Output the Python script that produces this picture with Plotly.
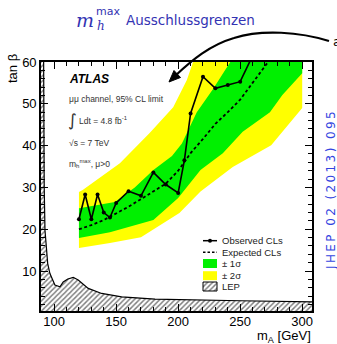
import plotly.graph_objects as go

# ---------------- data ----------------
obs_mA = [120, 125, 130, 135, 140, 145, 150, 160, 170, 180, 190, 200, 205, 210, 220, 230, 240, 250, 260]
obs_tb = [22.4, 28.3, 22.4, 28.3, 24.0, 22.8, 26.3, 29.1, 28.0, 33.6, 30.7, 28.7, 36.5, 47.7, 56.5, 53.7, 54.5, 55.3, 61.5]

exp_mA = [120, 130, 140, 150, 160, 170, 180, 190, 200, 210, 220, 230, 240, 250, 260, 270, 280]
exp_tb = [20.0, 21.0, 22.2, 23.7, 25.4, 27.2, 29.0, 30.9, 34.0, 38.2, 41.6, 45.2, 48.0, 51.0, 55.0, 59.0, 63.0]

# +-1 sigma band edges
g_up_mA = [120, 135, 149, 165, 180, 195, 203, 215, 228, 242, 248]
g_up_tb = [25.0, 25.8, 26.5, 30.0, 34.2, 37.5, 40.5, 48.0, 53.5, 60.0, 63.0]
g_lo_mA = [120, 145, 180, 200, 218, 236, 252, 274, 284, 300]
g_lo_tb = [17.9, 19.3, 22.2, 27.5, 34.2, 38.2, 43.3, 48.0, 52.1, 57.3]

# +-2 sigma band edges
y_up_mA = [120, 123, 153, 177, 196, 207, 212, 215]
y_up_tb = [28.9, 29.4, 35.8, 43.0, 49.2, 55.7, 60.0, 63.0]
y_lo_mA = [120, 145, 170, 201, 218, 244, 275, 300]
y_lo_tb = [15.5, 16.7, 18.1, 23.9, 29.0, 34.9, 40.1, 49.0]
band_end_mA = 300
band_top_tb = 63.0

# LEP excluded region boundary
lep_mA = [85, 91.5, 92.0, 92.6, 94.8, 96.6, 100.6, 104.7, 107.3, 111.0, 115.4, 119.4, 127.5, 138.3, 154.4, 181.3, 250, 312, 312, 85]
lep_tb = [62, 62, 30, 19.8, 11.8, 9.4, 6.65, 6.25, 7.4, 8.1, 8.5, 7.85, 5.85, 4.65, 3.85, 3.3, 2.9, 2.6, 0, 0]

x_range = [89.4, 307.9]
y_range = [0.45, 60]

legend_labels = ["Observed CLs", "Expected CLs", "± 1σ", "± 2σ", "LEP"]

# ---------------- layout geometry (pixels) ----------------
W, H = 337, 344
L, R, T, B = 41, 312, 62, 311

def pp(px, py):
    return (px - L) / (R - L), (B - py) / (B - T)

GREEN = "#00f000"
YELLOW = "#ffff00"
FONT = "Liberation Sans, Arial, sans-serif"

fig = go.Figure()

# LEP hatched region
fig.add_trace(go.Scatter(
    x=lep_mA, y=lep_tb, mode="lines", fill="toself", fillcolor="white",
    fillpattern=dict(shape="/", fgcolor="black", bgcolor="white", size=3.6, solidity=0.4),
    line=dict(color="black", width=1.2), hoverinfo="skip", showlegend=False))

# yellow band
fig.add_trace(go.Scatter(
    x=y_up_mA + [band_end_mA] + y_lo_mA[::-1],
    y=y_up_tb + [band_top_tb] + y_lo_tb[::-1],
    mode="lines", fill="toself", fillcolor=YELLOW, line=dict(width=0, color=YELLOW),
    hoverinfo="skip", showlegend=False))

# green band
fig.add_trace(go.Scatter(
    x=g_up_mA + [band_end_mA] + g_lo_mA[::-1],
    y=g_up_tb + [band_top_tb] + g_lo_tb[::-1],
    mode="lines", fill="toself", fillcolor=GREEN, line=dict(width=0, color=GREEN),
    hoverinfo="skip", showlegend=False))

# expected
fig.add_trace(go.Scatter(
    x=exp_mA, y=exp_tb, mode="lines",
    line=dict(color="black", width=1.8, dash="3px,2.5px"),
    hoverinfo="skip", showlegend=False))

# observed
fig.add_trace(go.Scatter(
    x=obs_mA, y=obs_tb, mode="lines+markers",
    line=dict(color="black", width=1.6),
    marker=dict(color="black", size=4),
    hoverinfo="skip", showlegend=False))

# ---------------- legend drawn on a pixel overlay axis ----------------
lx0, lx1 = 203, 217
rows = [240.7, 252.3, 263.5, 275.7, 286.5]
ov = dict(xaxis="x2", yaxis="y2", hoverinfo="skip", showlegend=False)
fig.add_trace(go.Scatter(x=[lx0, lx1], y=[rows[0], rows[0]], mode="lines",
                         line=dict(color="black", width=1.5), **ov))
fig.add_trace(go.Scatter(x=[(lx0 + lx1) / 2], y=[rows[0]], mode="markers",
                         marker=dict(color="black", size=4), **ov))
fig.add_trace(go.Scatter(x=[lx0, lx1], y=[rows[1], rows[1]], mode="lines",
                         line=dict(color="black", width=1.6, dash="2.5px,2px"), **ov))
def box(yc, **kw):
    return go.Scatter(x=[lx0, lx1, lx1, lx0, lx0],
                      y=[yc - 4.5, yc - 4.5, yc + 4.5, yc + 4.5, yc - 4.5],
                      mode="lines", fill="toself", **kw, **ov)
fig.add_trace(box(rows[2], fillcolor=GREEN, line=dict(width=0, color=GREEN)))
fig.add_trace(box(rows[3], fillcolor=YELLOW, line=dict(width=0, color=YELLOW)))
fig.add_trace(box(rows[4], fillcolor="white", line=dict(width=1, color="black"),
                  fillpattern=dict(shape="/", fgcolor="black", bgcolor="white", size=3.6, solidity=0.4)))

annotations = []
def txt(px, py, text, size, color="black", xanchor="left", yanchor="middle", family=FONT, angle=0):
    x, y = pp(px, py)
    annotations.append(dict(x=x, y=y, xref="paper", yref="paper", text=text, showarrow=False,
                            xanchor=xanchor, yanchor=yanchor, textangle=angle,
                            font=dict(size=size, color=color, family=family)))

for lab, yc in zip(legend_labels, rows):
    txt(220, yc, lab, 9.5, color="#222")

# ATLAS texts
txt(67, 79, "<b><i>ATLAS</i></b>", 12)
txt(67, 99, "μμ channel, 95% CL limit", 8.5, color="#333")
txt(66, 120, "∫", 17, color="#333", family="DejaVu Sans")
txt(77, 121, "Ldt = 4.8 fb<sup>-1</sup>", 8.5, color="#333")
txt(67, 143, "√s = 7 TeV", 8.5, color="#333")
txt(67, 163, "m<sub>h</sub><sup>max</sup>, μ>0", 8.5, color="#333")

# axis titles
txt(12, 69, "tan β", 13, xanchor="center", angle=-90)
txt(313, 336.5, "m<sub>A</sub> [GeV]", 13, xanchor="right")

# title
TBLUE = "#3333b3"
txt(85, 20, "<i>m</i>", 19, color=TBLUE, xanchor="center", family="DejaVu Serif, serif")
txt(94, 12, "max", 11, color=TBLUE, family="DejaVu Sans")
txt(95, 26, "<i>h</i>", 12, color=TBLUE, family="DejaVu Serif, serif")
txt(124, 20, "Ausschlussgrenzen", 13.5, color=TBLUE, family="DejaVu Sans")
# side reference (letter-spaced with thin spaces)
side = "\u2009".join("JHEP 02 (2013) 095")
txt(331, 191, side, 12, color="#3344e0", xanchor="center", angle=-90, family="DejaVu Sans")
# cut-off text at the arrow start
txt(330.5, 41, "a", 13, family="DejaVu Sans")

# curved arrow
def P(px, py):
    x, y = pp(px, py)
    return f"{x:.4f},{y:.4f}"
arrow_path = ("M " + P(329, 41) + " C " + P(300, 32) + " " + P(262, 29) + " " + P(234, 38)
              + " C " + P(210, 45) + " " + P(192, 60) + " " + P(175, 76))
head_path = "M " + P(169, 82) + " L " + P(180.5, 77.5) + " L " + P(174, 70.5) + " Z"
shapes = [
    dict(type="path", path=arrow_path, xref="paper", yref="paper", line=dict(color="black", width=2.2)),
    dict(type="path", path=head_path, xref="paper", yref="paper", fillcolor="black",
         line=dict(color="black", width=1)),
]

axis_common = dict(showgrid=False, zeroline=False, showline=True, linecolor="black", linewidth=1.6,
                   mirror="allticks", ticks="inside", ticklen=7, tickwidth=1.2, tickcolor="black",
                   tickfont=dict(family=FONT, size=13, color="black"))

fig.update_layout(
    width=W, height=H,
    margin=dict(l=L, r=W - R, t=T, b=H - B, pad=0, autoexpand=False),
    paper_bgcolor="white", plot_bgcolor="white",
    xaxis=dict(range=x_range, tick0=0, dtick=50, ticklabelstandoff=-2,
               minor=dict(ticks="inside", ticklen=4, dtick=10, tickcolor="black", showgrid=False),
               **axis_common),
    yaxis=dict(range=y_range, tick0=0, dtick=10, ticklabelstandoff=0,
               minor=dict(ticks="inside", ticklen=4, dtick=2, tickcolor="black", showgrid=False),
               **axis_common),
    xaxis2=dict(overlaying="x", anchor="y2", range=[L, R], visible=False, fixedrange=True),
    yaxis2=dict(overlaying="y", anchor="x2", range=[B, T], visible=False, fixedrange=True),
    annotations=annotations, shapes=shapes,
    showlegend=False,
)

fig.write_html("out.html")
